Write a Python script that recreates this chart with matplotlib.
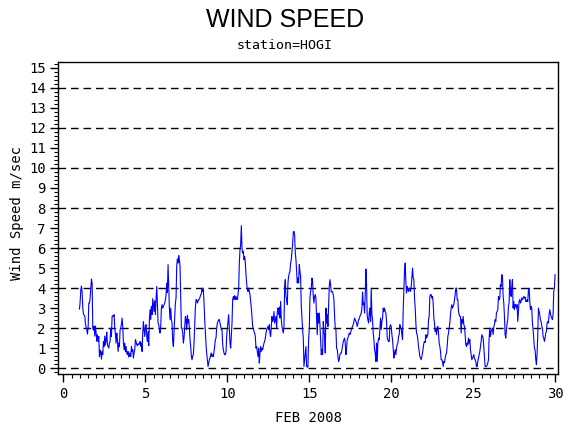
#Wind speed time series, station HOGI, Feb 2008
import numpy as np
import matplotlib
matplotlib.use('Agg')
import matplotlib.pyplot as plt
from matplotlib.ticker import MultipleLocator

# hourly-ish readings, split in four chunks (day ~1 to ~30)
speed_part1 = [2.95, 3.3, 3.9, 4.1, 3.8, 3.0, 2.7, 2.65, 2.6, 2.2, 2.05, 1.9, 1.7, 2.0, 3.25, 3.25,
    3.5, 4.0, 4.45, 4.25, 2.0, 1.9, 2.1, 1.6, 2.1, 1.75, 1.33, 1.67, 1.33, 1.58, 0.58, 0.9,
    0.75, 0.45, 0.83, 0.67, 1.33, 1.08, 1.6, 1.17, 1.42, 1.8, 1.17, 1.08, 1.0, 1.25, 1.33, 2.0,
    1.58, 2.58, 2.62, 2.58, 2.67, 2.0, 1.67, 1.25, 1.75, 1.42, 0.83, 1.25, 1.08, 1.92, 2.0, 2.2,
    2.5, 2.08, 1.25, 0.92, 1.25, 0.83, 1.08, 0.75, 0.67, 0.83, 0.55, 0.67, 0.75, 0.58, 1.08, 0.83,
    0.92, 0.5, 0.75, 0.92, 1.42, 1.33, 1.17, 1.12, 1.22, 1.17, 1.22, 1.33, 1.08, 1.25, 0.83, 1.75,
    2.33, 1.92, 1.58, 2.08, 2.17, 1.58, 1.33, 1.83, 1.12, 2.42, 2.92, 2.42, 3.08, 2.67, 3.47, 3.17,
    2.83, 3.37, 2.67, 3.48, 4.08, 3.25, 2.25, 2.17, 1.92, 1.75, 2.08, 3.0, 3.17, 3.0, 3.08, 3.17,
    3.25, 3.42, 3.67, 4.25, 3.78, 5.17, 4.08, 3.0, 2.42, 3.0, 2.42, 2.25, 1.33, 1.08, 1.83, 2.67,
    3.25, 3.5, 5.08, 5.45, 5.25, 5.62, 5.42, 5.08, 3.58, 2.0, 2.0, 1.75, 1.25, 1.5, 2.0, 2.58,
    2.42, 1.92, 2.63, 2.25, 2.42, 2.0, 1.42, 1.08, 0.58, 0.42, 0.62, 0.67, 1.25, 2.17]

speed_part2 = [3.0, 3.42, 3.42, 3.25, 3.33, 3.42, 3.45, 3.55, 3.67, 3.7, 4.0, 3.83, 3.92, 3.25, 2.42, 1.75,
    1.17, 0.75, 0.42, 0.08, 0.25, 0.42, 0.5, 0.67, 0.75, 0.58, 0.67, 0.58, 0.83, 1.08, 1.42, 1.5,
    2.0, 2.25, 2.33, 2.42, 2.42, 2.25, 2.08, 1.92, 1.92, 1.17, 0.92, 0.75, 0.67, 0.67, 0.83, 1.58,
    2.0, 2.33, 2.67, 1.92, 1.25, 1.0, 1.58, 2.25, 3.42, 3.58, 3.42, 3.62, 3.42, 3.58, 3.45, 3.42,
    3.67, 4.0, 5.25, 5.92, 6.17, 7.12, 6.0, 5.75, 5.83, 5.42, 5.58, 5.25, 4.67, 4.25, 3.92, 3.83,
    4.0, 3.83, 3.67, 3.33, 3.0, 2.58, 2.08, 2.0, 1.83, 1.75, 1.58, 1.0, 1.08, 0.83, 0.58, 1.0,
    0.25, 0.75, 1.08, 0.83, 1.0, 0.92, 1.08, 1.25, 1.33, 1.5, 1.75, 1.92, 2.0, 2.08, 1.92, 2.17,
    1.75, 1.58, 2.08, 2.58, 2.33, 2.42, 2.83, 2.25, 2.42, 2.58, 2.0, 2.83, 3.0, 2.67, 3.05, 2.5,
    3.33, 2.42, 2.08, 1.92, 1.75, 2.08, 4.08, 4.42, 3.58, 3.42, 3.17, 4.25, 4.58, 4.75, 4.83, 5.25,
    5.42, 5.83, 6.17, 6.78, 6.83, 6.67, 5.75, 5.42, 4.83, 4.25, 4.5, 4.25, 5.17, 4.83, 4.58, 3.08,
    2.5, 1.92, 1.5, 0.08, 0.42, 0.75, 1.08, 0.08, 0.05, 0.05, 1.42, 1.92, 3.5, 3.83, 4.0, 4.5,
    4.33, 3.58, 3.25, 3.58]

speed_part3 = [3.67, 3.5, 2.42, 1.67, 2.75, 2.25, 2.75, 2.17, 1.42, 0.67, 0.92, 0.67, 2.33, 1.92, 1.58, 0.75,
    3.0, 2.25, 2.67, 2.08, 3.08, 4.08, 4.42, 4.17, 3.8, 3.83, 3.8, 3.67, 3.42, 2.58, 2.0, 1.92,
    1.0, 0.92, 0.58, 0.33, 0.42, 0.67, 0.75, 0.75, 0.92, 1.12, 1.33, 1.42, 1.5, 1.25, 0.67, 1.0,
    1.42, 1.5, 1.62, 1.75, 1.67, 1.75, 1.92, 2.0, 2.08, 2.17, 2.33, 2.5, 2.42, 2.33, 2.25, 2.08,
    2.22, 2.42, 2.45, 2.58, 2.67, 2.75, 3.0, 3.8, 3.17, 3.25, 2.75, 3.67, 4.95, 4.17, 2.58, 2.42,
    2.25, 2.75, 3.0, 2.33, 4.0, 2.67, 2.42, 1.75, 1.42, 0.92, 0.75, 0.33, 1.25, 0.33, 1.25, 1.5,
    1.42, 1.92, 2.5, 1.92, 2.33, 2.5, 3.0, 2.83, 3.0, 2.83, 2.75, 2.33, 1.5, 1.42, 1.33, 1.33,
    2.08, 2.17, 2.08, 1.67, 1.42, 0.92, 0.5, 0.75, 0.92, 0.67, 1.0, 1.17, 1.25, 1.58, 1.67, 2.17,
    2.0, 2.0, 1.67, 1.42, 2.92, 3.83, 4.83, 5.25, 4.33, 3.75, 4.08, 3.92, 3.83, 4.0, 3.92, 3.83,
    4.08, 4.5, 5.0, 4.5, 4.42, 3.5, 3.0, 2.25, 1.75, 1.67, 1.42, 1.08, 0.83, 0.58, 0.5, 0.42,
    0.58, 0.75, 1.0, 1.25, 1.33, 1.28, 1.67, 1.5, 1.58, 1.67, 2.42, 2.58, 3.58, 3.67, 3.67, 3.5,
    3.58, 3.25, 2.5, 2.25]

speed_part4 = [1.83, 2.0, 1.67, 2.0, 2.08, 1.75, 1.25, 1.08, 0.83, 0.42, 0.42, 0.33, 0.08, 0.33, 0.28, 0.5,
    0.67, 0.75, 1.08, 1.58, 1.75, 2.0, 2.25, 2.67, 3.0, 3.17, 3.0, 3.08, 3.17, 3.42, 3.67, 4.0,
    4.0, 3.42, 3.42, 2.83, 2.67, 2.58, 2.58, 1.75, 2.42, 2.25, 2.58, 2.17, 2.08, 1.67, 1.17, 1.08,
    1.25, 1.17, 1.5, 1.25, 1.42, 0.92, 0.67, 0.42, 0.5, 0.58, 0.67, 0.5, 0.42, 0.33, 0.08, 0.08,
    0.33, 0.5, 0.67, 0.83, 1.08, 1.33, 1.67, 1.58, 1.5, 1.0, 0.42, 0.08, 0.08, 0.08, 0.17, 0.25,
    0.42, 1.5, 2.0, 1.58, 1.83, 1.92, 2.0, 1.67, 2.08, 2.17, 2.42, 2.33, 2.75, 2.83, 2.92, 3.58,
    3.42, 3.5, 4.17, 4.08, 4.67, 4.58, 3.58, 3.25, 2.58, 1.67, 1.5, 1.92, 2.25, 2.42, 3.08, 3.25,
    4.42, 3.75, 3.58, 4.08, 4.42, 3.0, 3.33, 2.92, 3.17, 3.17, 3.0, 3.17, 2.33, 2.83, 3.33, 3.42,
    3.25, 3.33, 3.5, 3.42, 3.5, 3.58, 3.5, 3.55, 3.33, 3.33, 3.42, 3.33, 3.92, 4.0, 3.33, 2.92,
    3.08, 3.0, 2.25, 1.92, 1.42, 1.0, 0.92, 0.42, 0.17, 0.75, 1.67, 3.0, 2.83, 2.67, 2.42, 2.33,
    2.08, 2.0, 1.58, 1.5, 1.33, 1.5, 1.75, 1.83, 2.25, 2.33, 2.25, 2.67, 2.92, 2.75, 2.58, 2.5,
    2.42, 2.67, 3.83, 4.0, 4.67]

first_day = 0.98
last_day = 29.98
ref_levels = [0, 2, 4, 6, 8, 10, 12, 14]

speed = np.array(speed_part1 + speed_part2 + speed_part3 + speed_part4)
days = np.linspace(first_day, last_day, len(speed))

mono = ['DejaVu Sans Mono']

fig = plt.figure(figsize=(5.7, 4.3), dpi=100)
ax = fig.add_axes([0.102, 0.130, 0.877, 0.726])

for lev in ref_levels:
    ax.axhline(lev, color='k', lw=1.0, ls=(0, (5.5, 3.5)), zorder=1)
ax.plot(days, speed, color='#0000ff', lw=0.8, zorder=2)

ax.set_xlim(-0.32, 30.16)
ax.set_ylim(-0.3, 15.3)

ax.xaxis.set_major_locator(MultipleLocator(5))
ax.xaxis.set_minor_locator(MultipleLocator(0.5))
ax.yaxis.set_major_locator(MultipleLocator(1))
ax.yaxis.set_minor_locator(MultipleLocator(0.2))
ax.tick_params(which='major', direction='out', length=6, width=1, labelsize=10, pad=3)
ax.tick_params(which='minor', direction='out', length=3, width=0.8)
for lab in ax.get_xticklabels() + ax.get_yticklabels():
    lab.set_family(mono)
ax.tick_params(axis='x', which='major', pad=3)

for sp in ax.spines.values():
    sp.set_linewidth(1.0)

# axis titles placed on the figure, like the reference
fig.text(0.541, 0.028, 'FEB 2008', ha='center', va='center',
         family=mono, fontsize=10)
fig.text(0.03, 0.505, 'Wind Speed m/sec', ha='center', va='center',
         rotation=90, family=mono, fontsize=10)

fig.text(0.5, 0.953, 'WIND SPEED', ha='center', va='center',
         family=['Liberation Sans'], fontsize=18)
fig.text(0.5, 0.895, 'station=HOGI', ha='center', va='center',
         family=mono, fontsize=9.5)

fig.savefig('out.png', dpi=100)
